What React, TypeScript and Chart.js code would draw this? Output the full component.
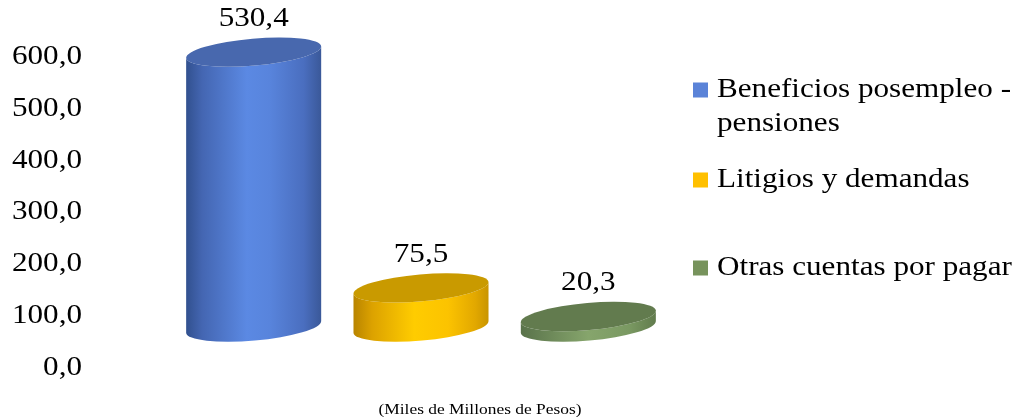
import React, { useEffect, useRef } from "react";
import { Chart, registerables } from "chart.js";

Chart.register(...registerables);

// ---- data ----
const categories = [
  "Beneficios posempleo - pensiones",
  "Litigios y demandas",
  "Otras cuentas por pagar",
];
const legendLines = [
  ["Beneficios posempleo -", "pensiones"],
  ["Litigios y demandas"],
  ["Otras cuentas por pagar"],
];
const values = [530.4, 75.5, 20.3];
const valueLabels = ["530,4", "75,5", "20,3"];
const yTickValues = [0, 100, 200, 300, 400, 500, 600];
const yTickLabels = ["0,0", "100,0", "200,0", "300,0", "400,0", "500,0", "600,0"];
const axisTitle = "(Miles de Millones de Pesos)";

// ---- style ----
const FONT = "'Liberation Serif', 'Times New Roman', serif";
const FS = 26.5;
const SX = 1.175; // horizontal stretch of text
const DEPTH = 41; // 3D floor offset
const RY = 13.5;
const ROT = (-5 * Math.PI) / 180;

const palette = [
  {
    side: [
      [0, "#31508e"],
      [0.12, "#4466b2"],
      [0.45, "#5b89e3"],
      [0.62, "#5884dc"],
      [0.87, "#4a6ebf"],
      [1, "#3a5898"],
    ],
    top: "#4868ae",
    legend: "#5a83d8",
  },
  {
    side: [
      [0, "#b88400"],
      [0.14, "#dca200"],
      [0.45, "#ffcc00"],
      [0.7, "#fcc300"],
      [0.9, "#e2a800"],
      [1, "#c89400"],
    ],
    top: "#c99a00",
    legend: "#ffc000",
  },
  {
    side: [
      [0, "#59724a"],
      [0.5, "#86a56c"],
      [0.8, "#7a9962"],
      [1, "#617b4d"],
    ],
    top: "#627b4e",
    legend: "#77935c",
  },
];

function stretchedText(
  ctx: CanvasRenderingContext2D,
  text: string,
  x: number,
  y: number,
  size: number,
  align: CanvasTextAlign,
  sx: number = SX
) {
  ctx.save();
  ctx.font = `${size}px ${FONT}`;
  ctx.fillStyle = "#000";
  ctx.textAlign = align;
  ctx.textBaseline = "middle";
  ctx.translate(x, y);
  ctx.scale(sx, 1);
  ctx.fillText(text, 0, 0);
  ctx.restore();
}

const cylinderPlugin = {
  id: "cylinders",
  afterDatasetsDraw(chart: any) {
    const ctx: CanvasRenderingContext2D = chart.ctx;
    const meta = chart.getDatasetMeta(0);
    const cos = Math.cos(ROT);
    const sin = Math.sin(ROT);
    meta.data.forEach((bar: any, i: number) => {
      const { x, y, base, width } = bar.getProps(["x", "y", "base", "width"], true);
      const rx = width / 2;
      const topY = y - DEPTH;
      const botY = base - DEPTH;
      const pal = palette[i];

      ctx.save();
      const g = ctx.createLinearGradient(x - rx, 0, x + rx, 0);
      pal.side.forEach(([o, c]) => g.addColorStop(o as number, c as string));
      ctx.beginPath();
      ctx.moveTo(x - rx * cos, topY - rx * sin);
      ctx.lineTo(x - rx * cos, botY - rx * sin);
      ctx.ellipse(x, botY, rx, RY, ROT, Math.PI, 0, true);
      ctx.lineTo(x + rx * cos, topY + rx * sin);
      ctx.ellipse(x, topY, rx, RY, ROT, 0, Math.PI, false);
      ctx.closePath();
      ctx.fillStyle = g;
      ctx.fill();

      ctx.beginPath();
      ctx.ellipse(x, topY, rx, RY, ROT, 0, Math.PI * 2);
      ctx.fillStyle = pal.top;
      ctx.fill();
      ctx.restore();

      stretchedText(ctx, valueLabels[i], x, topY - 33, FS, "center");
    });
  },
  afterDraw(chart: any) {
    const ctx: CanvasRenderingContext2D = chart.ctx;
    const yScale = chart.scales.y;
    yTickValues.forEach((v, i) => {
      stretchedText(ctx, yTickLabels[i], 82, yScale.getPixelForValue(v), FS, "right");
    });

    // legend
    const legendY = [90, 180, 268];
    legendLines.forEach((lines, i) => {
      ctx.save();
      ctx.fillStyle = palette[i].legend;
      ctx.fillRect(693, legendY[i] - 7.5, 15, 15);
      ctx.restore();
      lines.forEach((t, j) => {
        stretchedText(ctx, t, 717, legendY[i] + j * 34, FS, "left");
      });
    });

    stretchedText(ctx, axisTitle, 480, 410, 14.5, "center", 1.2);
  },
};

export default function App() {
  const ref = useRef<HTMLCanvasElement | null>(null);
  useEffect(() => {
    if (!ref.current) return;
    const chart = new Chart(ref.current, {
      type: "bar",
      data: {
        labels: categories,
        datasets: [
          {
            data: values,
            backgroundColor: "rgba(0,0,0,0)",
            borderWidth: 0,
            barPercentage: 1,
            categoryPercentage: 0.81,
          },
        ],
      },
      options: {
        animation: false,
        responsive: true,
        maintainAspectRatio: false,
        layout: { padding: { left: 170, right: 349, top: 57, bottom: 49 } },
        plugins: { legend: { display: false }, tooltip: { enabled: false } },
        scales: {
          x: { display: false },
          y: { display: false, min: 0, max: 600 },
        },
      },
      plugins: [cylinderPlugin],
    });
    return () => chart.destroy();
  }, []);
  return (
    <div style={{ position: "absolute", left: 0, top: 0, width: 1021, height: 417, background: "#fff" }}>
      <canvas ref={ref} />
    </div>
  );
}
